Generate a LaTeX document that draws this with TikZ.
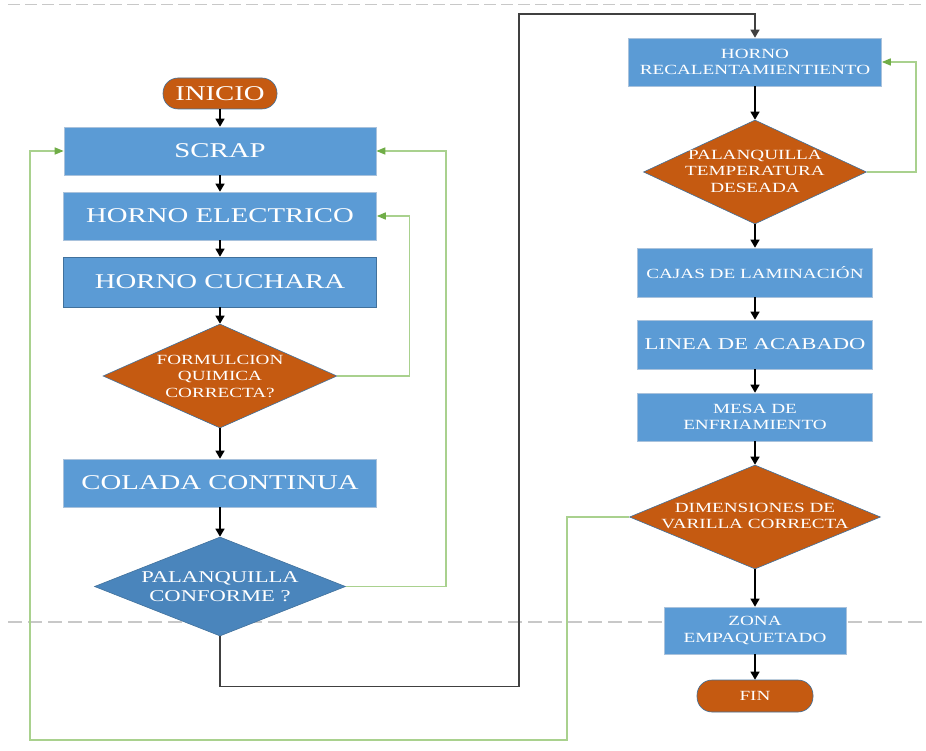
\documentclass[tikz,border=0pt]{standalone}
\usepackage{fontspec}
\setmainfont{Liberation Serif}[FakeStretch=1.37]
\usepackage{tikz}
\usetikzlibrary{arrows.meta}
\usetikzlibrary{shapes.geometric}

\definecolor{azulcaja}{HTML}{5B9BD5}
\definecolor{azulrombo}{HTML}{4A85BC}
\definecolor{bordeazul}{HTML}{41719C}
\definecolor{bordeclaro}{HTML}{A9C2DC}
\definecolor{naranja}{HTML}{C55A11}
\definecolor{verde}{HTML}{70AD47}
\definecolor{verdeclaro}{HTML}{A9D18E}
\definecolor{guia}{HTML}{C8C8C8}

\begin{document}
\begin{tikzpicture}[x=1pt, y=-1pt]
    \tikzset{proceso/.style={rectangle, draw=bordeclaro, line width=0.6pt, fill=azulcaja,
                 text=white, inner sep=0pt, align=center, minimum width=313pt, minimum height=48pt}}
    \tikzset{decision/.style={diamond, draw=bordeazul, line width=0.6pt, fill=naranja, inner sep=0pt}}
    \tikzset{terminal/.style={rectangle, rounded corners=15pt, draw=bordeazul, line width=0.6pt,
                 fill=naranja, text=white, inner sep=0pt}}
    \tikzset{rotulo/.style={text=white, align=center, inner sep=0pt}}
    \tikzset{grande/.style={font=\fontsize{21}{24}\selectfont}}
    \tikzset{media/.style={font=\fontsize{16.5}{19}\selectfont}}
    \tikzset{chica/.style={font=\fontsize{14}{16.5}\selectfont}}
    \tikzset{flecha/.style={line width=1.3pt, -{Triangle[length=8pt,width=9pt]}}}
    \tikzset{retorno/.style={draw=verdeclaro, line width=1.5pt, -{Triangle[length=9pt,width=7pt,color=verde]}}}
    \useasboundingbox (0,0) rectangle (926,751);
    \draw[guia, line width=1pt, dash pattern=on 12pt off 5pt] (8,5) -- (926,5);
    \draw[guia, line width=1.2pt, dash pattern=on 14pt off 6pt] (8,622) -- (926,622);

    \node[terminal, grande, minimum width=114pt, minimum height=31pt] (inicio) at (220,93.5) {INICIO};
    \node[proceso, grande, minimum width=312pt] (scrap) at (220,151) {SCRAP};
    \node[proceso, grande] (electrico) at (220,216) {HORNO ELECTRICO};
    \node[proceso, grande, draw=bordeazul, minimum height=50pt] (cuchara) at (220,282) {HORNO CUCHARA};
    \node[decision, minimum width=234pt, minimum height=104pt] (formula) at (220,376) {};
    \node[rotulo, chica] (formula-txt) at (220,376) {FORMULCION\\QUIMICA\\CORRECTA?};
    \node[proceso, grande] (colada) at (220,483) {COLADA CONTINUA};
    \node[decision, fill=azulrombo, minimum width=251pt, minimum height=99pt] (conforme) at (220,586.5) {};
    \node[rotulo, media] (conforme-txt) at (220,586.5) {PALANQUILLA\\CONFORME ?};

    \node[proceso, chica, minimum width=253pt, text depth=0pt] (recalent) at (755,62) {HORNO\\RECALENTAMIENTIENTO};
    \node[decision, minimum width=223pt, minimum height=104pt] (temperatura) at (755,172) {};
    \node[rotulo, chica] (temperatura-txt) at (755,171) {PALANQUILLA\\TEMPERATURA\\DESEADA};
    \node[proceso, chica, minimum width=235pt, minimum height=49pt] (cajas) at (755,272.5) {CAJAS DE LAMINACIÓN};
    \node[proceso, media, minimum width=235pt, minimum height=49pt] (linea) at (755,344.5) {LINEA DE ACABADO};
    \node[proceso, chica, minimum width=235pt] (mesa) at (755,417) {MESA DE\\ENFRIAMIENTO};
    \node[decision, minimum width=251pt, minimum height=104pt] (dimensiones) at (755,517) {};
    \node[rotulo, chica] (dimensiones-txt) at (755,516) {DIMENSIONES DE\\VARILLA CORRECTA};
    \node[proceso, chica, minimum width=182pt, minimum height=47pt] (zona) at (755,630.5) {ZONA\\EMPAQUETADO};
    \node[terminal, chica, minimum width=116pt, minimum height=32pt] (fin) at (755,696) {FIN};

    \draw[flecha] (inicio) -- (scrap);
    \draw[flecha] (scrap) -- (electrico);
    \draw[flecha] (electrico) -- (cuchara);
    \draw[flecha] (cuchara) -- (formula);
    \draw[flecha] (formula) -- (colada);
    \draw[flecha] (colada) -- (conforme);
    \draw[flecha, black!75] (conforme.south) -- ++(0,50) -| (519,14) -| (recalent.north);
    \draw[flecha] (recalent) -- (temperatura);
    \draw[flecha] (temperatura) -- (cajas);
    \draw[flecha] (cajas) -- (linea);
    \draw[flecha] (linea) -- (mesa);
    \draw[flecha] (mesa) -- (dimensiones);
    \draw[flecha] (dimensiones) -- (zona);
    \draw[flecha] (zona) -- (fin);

    \draw[retorno] (formula.east) -- ++(72,0) |- (electrico.east);
    \draw[retorno] (conforme.east) -- ++(100,0) |- (scrap.east);
    \draw[retorno] (temperatura.east) -- ++(49,0) |- (recalent.east);
    \draw[retorno] (dimensiones.west) -| (567,740) -| (30,151) -- (scrap.west);
\end{tikzpicture}
\end{document}
